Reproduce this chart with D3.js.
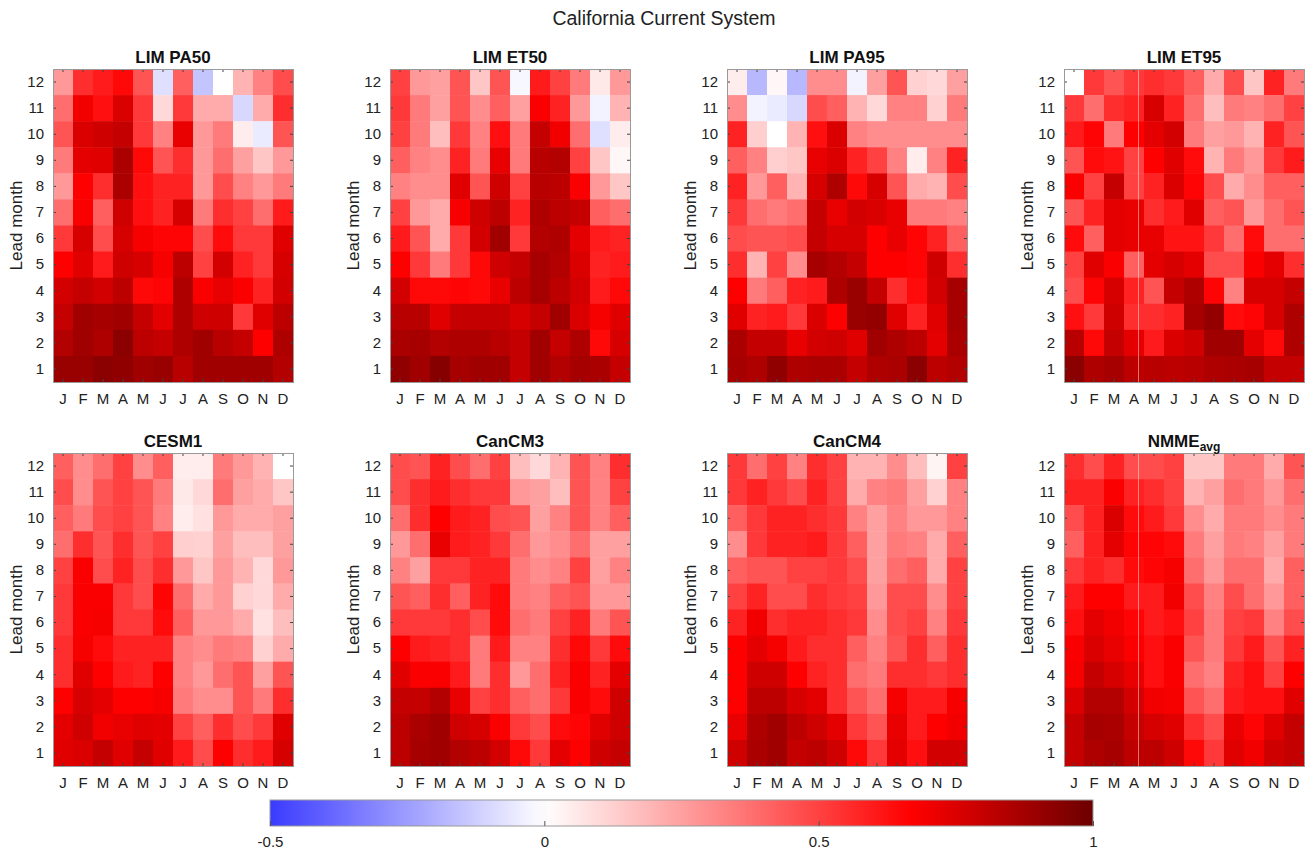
<!DOCTYPE html>
<html>
<head>
<meta charset="utf-8">
<script src="https://cdn.jsdelivr.net/npm/d3@7"></script>
<style>
  body { margin: 0; background: #fff; }
  text { font-family: "Liberation Sans", Arial, Helvetica, sans-serif; }
</style>
</head>
<body>
<div id="chart"></div>
<script>
// Skill maps, rows listed top to bottom (lead 12 first), columns Jan..Dec
const months = ['J', 'F', 'M', 'A', 'M', 'J', 'J', 'A', 'S', 'O', 'N', 'D'];
const leads = [12, 11, 10, 9, 8, 7, 6, 5, 4, 3, 2, 1];
const colorTicks = [-0.5, 0, 0.5, 1];

const limPA50 = [
  [0.27, 0.55, 0.60, 0.65, 0.45, -0.08, 0.42, -0.15, 0.00, 0.20, 0.33, 0.47],
  [0.38, 0.70, 0.63, 0.75, 0.52, 0.10, 0.52, 0.22, 0.22, -0.10, 0.22, 0.55],
  [0.45, 0.75, 0.78, 0.80, 0.52, 0.33, 0.72, 0.27, 0.35, 0.05, -0.05, 0.45],
  [0.35, 0.73, 0.74, 0.86, 0.65, 0.45, 0.55, 0.27, 0.38, 0.25, 0.15, 0.27],
  [0.27, 0.67, 0.55, 0.86, 0.63, 0.58, 0.58, 0.27, 0.47, 0.33, 0.27, 0.35],
  [0.38, 0.68, 0.42, 0.78, 0.63, 0.58, 0.76, 0.35, 0.55, 0.50, 0.38, 0.60],
  [0.52, 0.76, 0.47, 0.76, 0.69, 0.66, 0.66, 0.47, 0.64, 0.52, 0.52, 0.74],
  [0.67, 0.74, 0.60, 0.78, 0.76, 0.69, 0.82, 0.50, 0.77, 0.58, 0.52, 0.76],
  [0.77, 0.80, 0.77, 0.82, 0.65, 0.66, 0.85, 0.68, 0.72, 0.68, 0.58, 0.77],
  [0.80, 0.88, 0.87, 0.88, 0.80, 0.73, 0.85, 0.78, 0.78, 0.52, 0.74, 0.82],
  [0.84, 0.88, 0.85, 0.93, 0.82, 0.80, 0.85, 0.88, 0.83, 0.80, 0.67, 0.85],
  [0.90, 0.90, 0.93, 0.92, 0.88, 0.90, 0.83, 0.88, 0.88, 0.88, 0.88, 0.84]
];

const limET50 = [
  [0.50, 0.27, 0.25, 0.45, 0.15, 0.45, -0.02, 0.60, 0.50, 0.35, 0.06, 0.27],
  [0.52, 0.35, 0.25, 0.45, 0.30, 0.42, 0.25, 0.68, 0.58, 0.27, -0.03, 0.20],
  [0.50, 0.35, 0.17, 0.52, 0.33, 0.63, 0.35, 0.80, 0.70, 0.38, -0.08, 0.05],
  [0.42, 0.33, 0.30, 0.58, 0.35, 0.72, 0.35, 0.83, 0.84, 0.50, 0.15, 0.02],
  [0.33, 0.30, 0.30, 0.74, 0.45, 0.78, 0.50, 0.83, 0.82, 0.68, 0.27, 0.15],
  [0.50, 0.27, 0.22, 0.69, 0.78, 0.82, 0.58, 0.85, 0.82, 0.80, 0.42, 0.38],
  [0.60, 0.45, 0.22, 0.52, 0.77, 0.88, 0.52, 0.84, 0.85, 0.73, 0.60, 0.58],
  [0.67, 0.52, 0.35, 0.52, 0.65, 0.78, 0.80, 0.87, 0.84, 0.75, 0.58, 0.60],
  [0.77, 0.65, 0.65, 0.66, 0.65, 0.72, 0.82, 0.87, 0.82, 0.77, 0.60, 0.65],
  [0.83, 0.83, 0.74, 0.80, 0.80, 0.80, 0.76, 0.80, 0.88, 0.75, 0.69, 0.74],
  [0.86, 0.87, 0.84, 0.85, 0.85, 0.83, 0.80, 0.88, 0.80, 0.85, 0.65, 0.76],
  [0.92, 0.88, 0.94, 0.87, 0.88, 0.88, 0.80, 0.88, 0.84, 0.87, 0.86, 0.80]
];

const limPA95 = [
  [0.05, -0.18, 0.02, -0.18, 0.30, 0.30, -0.03, 0.25, 0.45, 0.12, 0.10, 0.25],
  [0.30, -0.03, -0.05, -0.10, 0.47, 0.42, 0.20, 0.10, 0.33, 0.33, 0.12, 0.35],
  [0.58, 0.13, 0.00, 0.20, 0.63, 0.75, 0.33, 0.30, 0.30, 0.30, 0.30, 0.30],
  [0.42, 0.33, 0.13, 0.15, 0.72, 0.75, 0.58, 0.50, 0.33, 0.05, 0.33, 0.58],
  [0.58, 0.27, 0.42, 0.20, 0.76, 0.85, 0.65, 0.76, 0.45, 0.22, 0.20, 0.47],
  [0.52, 0.38, 0.35, 0.38, 0.80, 0.72, 0.77, 0.75, 0.72, 0.35, 0.35, 0.33],
  [0.47, 0.45, 0.45, 0.47, 0.80, 0.76, 0.76, 0.67, 0.72, 0.66, 0.58, 0.42],
  [0.55, 0.20, 0.50, 0.30, 0.87, 0.84, 0.80, 0.67, 0.67, 0.66, 0.78, 0.55],
  [0.67, 0.35, 0.42, 0.58, 0.60, 0.85, 0.90, 0.80, 0.55, 0.64, 0.77, 0.87],
  [0.74, 0.58, 0.60, 0.52, 0.75, 0.67, 0.90, 0.91, 0.74, 0.58, 0.74, 0.87],
  [0.86, 0.80, 0.80, 0.72, 0.77, 0.78, 0.74, 0.88, 0.85, 0.82, 0.73, 0.86],
  [0.87, 0.85, 0.92, 0.85, 0.86, 0.86, 0.80, 0.85, 0.86, 0.93, 0.82, 0.84]
];

const limET95 = [
  [0.00, 0.52, 0.45, 0.52, 0.55, 0.52, 0.42, 0.22, 0.47, 0.15, 0.58, 0.35],
  [0.52, 0.38, 0.55, 0.58, 0.76, 0.58, 0.38, 0.17, 0.35, 0.33, 0.38, 0.50],
  [0.60, 0.66, 0.35, 0.67, 0.73, 0.77, 0.35, 0.25, 0.27, 0.20, 0.58, 0.45],
  [0.45, 0.64, 0.62, 0.50, 0.67, 0.74, 0.64, 0.20, 0.35, 0.27, 0.52, 0.60],
  [0.68, 0.50, 0.80, 0.50, 0.58, 0.75, 0.66, 0.47, 0.22, 0.30, 0.42, 0.42],
  [0.45, 0.58, 0.73, 0.72, 0.55, 0.60, 0.74, 0.42, 0.45, 0.27, 0.38, 0.45],
  [0.64, 0.42, 0.73, 0.72, 0.72, 0.62, 0.62, 0.52, 0.38, 0.64, 0.38, 0.38],
  [0.50, 0.74, 0.68, 0.42, 0.73, 0.76, 0.73, 0.47, 0.47, 0.68, 0.73, 0.55],
  [0.47, 0.66, 0.76, 0.58, 0.45, 0.80, 0.85, 0.66, 0.33, 0.76, 0.76, 0.80],
  [0.63, 0.52, 0.78, 0.55, 0.55, 0.58, 0.87, 0.91, 0.64, 0.66, 0.76, 0.85],
  [0.83, 0.65, 0.80, 0.73, 0.60, 0.75, 0.78, 0.88, 0.88, 0.73, 0.65, 0.85],
  [0.93, 0.85, 0.87, 0.82, 0.83, 0.82, 0.83, 0.85, 0.86, 0.87, 0.80, 0.80]
];

const cesm1 = [
  [0.42, 0.30, 0.38, 0.50, 0.30, 0.42, 0.05, 0.05, 0.35, 0.27, 0.20, 0.00],
  [0.47, 0.30, 0.45, 0.50, 0.45, 0.35, 0.06, 0.10, 0.38, 0.25, 0.22, 0.15],
  [0.42, 0.35, 0.47, 0.50, 0.45, 0.33, 0.05, 0.08, 0.27, 0.22, 0.22, 0.25],
  [0.38, 0.55, 0.45, 0.55, 0.45, 0.50, 0.13, 0.12, 0.25, 0.17, 0.17, 0.25],
  [0.50, 0.68, 0.47, 0.58, 0.47, 0.55, 0.27, 0.15, 0.27, 0.20, 0.10, 0.27],
  [0.52, 0.68, 0.68, 0.52, 0.47, 0.66, 0.38, 0.22, 0.27, 0.12, 0.10, 0.22],
  [0.52, 0.68, 0.69, 0.52, 0.52, 0.64, 0.42, 0.27, 0.27, 0.22, 0.08, 0.17],
  [0.55, 0.69, 0.64, 0.58, 0.58, 0.58, 0.33, 0.30, 0.35, 0.33, 0.12, 0.22],
  [0.55, 0.74, 0.67, 0.60, 0.58, 0.67, 0.33, 0.27, 0.38, 0.45, 0.25, 0.45],
  [0.67, 0.76, 0.73, 0.67, 0.67, 0.69, 0.35, 0.30, 0.30, 0.45, 0.35, 0.55],
  [0.73, 0.78, 0.70, 0.72, 0.74, 0.73, 0.50, 0.42, 0.55, 0.47, 0.52, 0.74],
  [0.74, 0.75, 0.80, 0.74, 0.80, 0.74, 0.60, 0.47, 0.67, 0.55, 0.60, 0.76]
];

const canCM3 = [
  [0.47, 0.45, 0.58, 0.47, 0.38, 0.50, 0.17, 0.10, 0.20, 0.45, 0.33, 0.55],
  [0.47, 0.55, 0.60, 0.55, 0.52, 0.52, 0.27, 0.25, 0.17, 0.45, 0.33, 0.50],
  [0.38, 0.55, 0.67, 0.60, 0.58, 0.47, 0.45, 0.25, 0.33, 0.45, 0.33, 0.42],
  [0.27, 0.38, 0.72, 0.60, 0.58, 0.52, 0.38, 0.27, 0.30, 0.38, 0.25, 0.25],
  [0.33, 0.25, 0.52, 0.52, 0.58, 0.58, 0.35, 0.30, 0.33, 0.50, 0.25, 0.33],
  [0.45, 0.42, 0.55, 0.42, 0.58, 0.64, 0.35, 0.33, 0.42, 0.45, 0.27, 0.27],
  [0.52, 0.52, 0.52, 0.55, 0.47, 0.64, 0.38, 0.35, 0.50, 0.58, 0.35, 0.45],
  [0.67, 0.60, 0.58, 0.55, 0.35, 0.60, 0.33, 0.33, 0.55, 0.65, 0.52, 0.64],
  [0.74, 0.68, 0.68, 0.60, 0.35, 0.55, 0.27, 0.38, 0.58, 0.68, 0.58, 0.73],
  [0.80, 0.80, 0.84, 0.72, 0.50, 0.55, 0.42, 0.38, 0.52, 0.68, 0.64, 0.78],
  [0.82, 0.86, 0.88, 0.78, 0.76, 0.68, 0.52, 0.47, 0.64, 0.66, 0.74, 0.78],
  [0.82, 0.87, 0.88, 0.84, 0.82, 0.77, 0.65, 0.52, 0.73, 0.67, 0.78, 0.80]
];

const canCM4 = [
  [0.52, 0.38, 0.50, 0.33, 0.55, 0.50, 0.20, 0.20, 0.30, 0.17, 0.03, 0.50],
  [0.52, 0.58, 0.52, 0.47, 0.58, 0.50, 0.22, 0.33, 0.35, 0.25, 0.12, 0.33],
  [0.42, 0.52, 0.58, 0.58, 0.55, 0.52, 0.33, 0.25, 0.33, 0.27, 0.27, 0.33],
  [0.30, 0.52, 0.58, 0.58, 0.60, 0.52, 0.42, 0.25, 0.35, 0.33, 0.22, 0.42],
  [0.42, 0.45, 0.45, 0.50, 0.50, 0.52, 0.47, 0.25, 0.38, 0.42, 0.22, 0.50],
  [0.50, 0.58, 0.47, 0.47, 0.55, 0.52, 0.50, 0.27, 0.47, 0.47, 0.30, 0.50],
  [0.58, 0.70, 0.55, 0.58, 0.58, 0.55, 0.52, 0.30, 0.47, 0.50, 0.33, 0.52],
  [0.67, 0.73, 0.69, 0.60, 0.55, 0.55, 0.42, 0.33, 0.45, 0.55, 0.42, 0.55],
  [0.67, 0.78, 0.78, 0.67, 0.58, 0.55, 0.38, 0.35, 0.55, 0.55, 0.52, 0.55],
  [0.67, 0.82, 0.82, 0.76, 0.73, 0.55, 0.45, 0.38, 0.69, 0.60, 0.60, 0.69],
  [0.72, 0.85, 0.88, 0.82, 0.78, 0.73, 0.52, 0.45, 0.72, 0.60, 0.67, 0.70],
  [0.78, 0.86, 0.88, 0.80, 0.82, 0.78, 0.65, 0.52, 0.73, 0.63, 0.77, 0.77]
];

const nmmeAvg = [
  [0.55, 0.47, 0.58, 0.47, 0.47, 0.50, 0.15, 0.15, 0.35, 0.35, 0.22, 0.45],
  [0.58, 0.58, 0.68, 0.58, 0.55, 0.50, 0.20, 0.25, 0.38, 0.35, 0.27, 0.38],
  [0.47, 0.58, 0.75, 0.64, 0.60, 0.52, 0.30, 0.22, 0.35, 0.35, 0.30, 0.35],
  [0.42, 0.58, 0.73, 0.66, 0.66, 0.64, 0.35, 0.25, 0.35, 0.33, 0.25, 0.35],
  [0.52, 0.58, 0.55, 0.64, 0.66, 0.69, 0.38, 0.27, 0.38, 0.38, 0.22, 0.42],
  [0.60, 0.67, 0.67, 0.60, 0.60, 0.70, 0.47, 0.33, 0.47, 0.38, 0.27, 0.42],
  [0.63, 0.73, 0.70, 0.66, 0.60, 0.63, 0.50, 0.35, 0.50, 0.52, 0.33, 0.47],
  [0.68, 0.75, 0.72, 0.68, 0.63, 0.68, 0.45, 0.35, 0.52, 0.60, 0.45, 0.58],
  [0.69, 0.80, 0.76, 0.72, 0.63, 0.68, 0.38, 0.33, 0.58, 0.63, 0.50, 0.67],
  [0.75, 0.84, 0.84, 0.77, 0.70, 0.69, 0.45, 0.38, 0.60, 0.63, 0.63, 0.74],
  [0.80, 0.87, 0.86, 0.80, 0.76, 0.74, 0.55, 0.47, 0.72, 0.66, 0.74, 0.80],
  [0.80, 0.85, 0.87, 0.82, 0.82, 0.78, 0.65, 0.52, 0.74, 0.70, 0.78, 0.80]
];

const panels = [
  { name: 'LIM PA50', values: limPA50 },
  { name: 'LIM ET50', values: limET50 },
  { name: 'LIM PA95', values: limPA95 },
  { name: 'LIM ET95', values: limET95, seam: true },
  { name: 'CESM1', values: cesm1 },
  { name: 'CanCM3', values: canCM3 },
  { name: 'CanCM4', values: canCM4 },
  { name: 'NMME', sub: 'avg', values: nmmeAvg, seam: true }
];

const W = 1312, H = 855;
const panelW = 240, panelH = 313;
const colX = [53, 390, 727, 1064];
const rowY = [69, 453];
const fontFamily = '"Liberation Sans", Arial, Helvetica, sans-serif';

const color = d3.scaleLinear()
  .domain([-0.5, 0, 0.67, 1])
  .range(['#3a3aff', '#ffffff', '#ff0000', '#6c0000'])
  .clamp(true);

const svg = d3.select('#chart').append('svg')
  .attr('width', W)
  .attr('height', H);

// Main title
svg.append('text')
  .attr('x', 664)
  .attr('y', 25)
  .attr('text-anchor', 'middle')
  .style('font-size', '19.5px')
  .style('fill', '#222')
  .text('California Current System');

const x = d3.scaleBand().domain(d3.range(12)).range([0, panelW]);
const y = d3.scaleBand().domain(leads).range([0, panelH]);

panels.forEach((p, k) => {
  const g = svg.append('g')
    .attr('transform', `translate(${colX[k % 4]},${rowY[Math.floor(k / 4)]})`);

  // cells
  const cells = [];
  p.values.forEach((row, r) => row.forEach((v, c) => cells.push({ lead: leads[r], m: c, v })));
  g.selectAll('rect.cell')
    .data(cells)
    .enter().append('rect')
    .attr('class', 'cell')
    .attr('x', d => x(d.m))
    .attr('y', d => y(d.lead))
    .attr('width', x.bandwidth() + 0.5)
    .attr('height', y.bandwidth() + 0.5)
    .attr('fill', d => color(d.v));

  if (p.seam) {
    g.append('line')
      .attr('x1', 74.5).attr('x2', 74.5)
      .attr('y1', 0).attr('y2', panelH)
      .attr('stroke', 'rgba(255,255,255,0.45)')
      .attr('stroke-width', 1);
  }

  // axes (MATLAB style: inward ticks on every side)
  const xb = g.append('g')
    .attr('transform', `translate(0,${panelH})`)
    .call(d3.axisBottom(x).tickSizeInner(-3).tickSizeOuter(0).tickPadding(11)
      .tickFormat(i => months[i]));
  const xt = g.append('g')
    .call(d3.axisTop(x).tickSizeInner(-3).tickSizeOuter(0).tickFormat(''));
  const yl = g.append('g')
    .call(d3.axisLeft(y).tickSizeInner(-3).tickSizeOuter(0).tickPadding(9));
  const yr = g.append('g')
    .attr('transform', `translate(${panelW},0)`)
    .call(d3.axisRight(y).tickSizeInner(-3).tickSizeOuter(0).tickFormat(''));

  [xb, xt, yl, yr].forEach(a => {
    a.select('.domain').remove();
    a.selectAll('line').attr('stroke', '#444');
    a.selectAll('text').style('font-size', '15px').style('fill', '#222')
      .style('font-family', fontFamily);
  });

  g.append('rect')
    .attr('x', 0.5).attr('y', 0.5)
    .attr('width', panelW).attr('height', panelH)
    .attr('fill', 'none')
    .attr('stroke', '#999')
    .attr('stroke-width', 1);

  // panel title
  const t = g.append('text')
    .attr('x', panelW / 2)
    .attr('y', -6)
    .attr('text-anchor', 'middle')
    .style('font-size', '17px')
    .style('font-weight', 'bold')
    .style('fill', '#111')
    .text(p.name);
  if (p.sub) {
    t.append('tspan')
      .attr('dy', 4)
      .style('font-size', '12px')
      .text(p.sub);
  }

  // y label
  g.append('text')
    .attr('transform', `translate(-31,${panelH / 2}) rotate(-90)`)
    .attr('text-anchor', 'middle')
    .style('font-size', '17px')
    .style('fill', '#222')
    .text('Lead month');
});

// Colorbar
const cbX = 270, cbY = 800, cbW = 823, cbH = 26;
const cbScale = d3.scaleLinear().domain([-0.5, 1]).range([0, cbW]);

const grad = svg.append('defs').append('linearGradient')
  .attr('id', 'cbgrad')
  .attr('x1', '0%').attr('x2', '100%')
  .attr('y1', '0%').attr('y2', '0%');
grad.selectAll('stop')
  .data(d3.range(0, 1.0001, 0.02))
  .enter().append('stop')
  .attr('offset', d => `${d * 100}%`)
  .attr('stop-color', d => color(-0.5 + d * 1.5));

const cb = svg.append('g').attr('transform', `translate(${cbX},${cbY})`);
cb.append('rect')
  .attr('width', cbW).attr('height', cbH)
  .attr('fill', 'url(#cbgrad)')
  .attr('stroke', '#999');

const cbAxis = cb.append('g')
  .attr('transform', `translate(0,${cbH})`)
  .call(d3.axisBottom(cbScale).tickValues(colorTicks)
    .tickSizeInner(-5).tickSizeOuter(0).tickPadding(10)
    .tickFormat(d => String(d)));
cbAxis.select('.domain').remove();
cbAxis.selectAll('line').attr('stroke', '#555');
cbAxis.selectAll('text').style('font-size', '15px').style('fill', '#222')
  .style('font-family', fontFamily);
</script>
</body>
</html>
